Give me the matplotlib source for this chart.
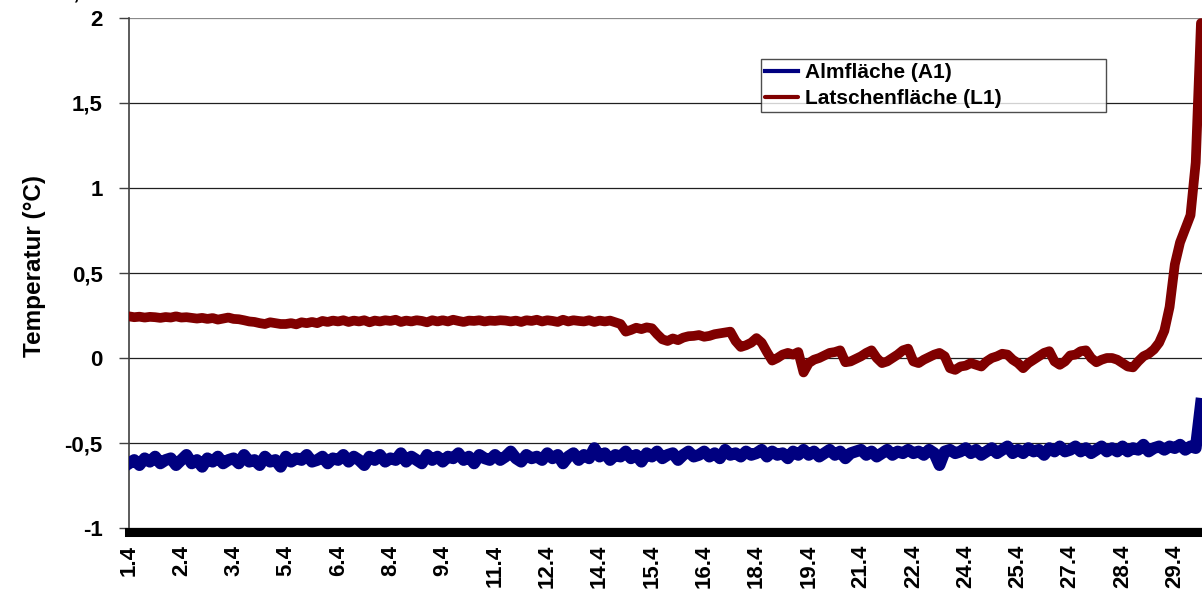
import numpy as np
import matplotlib
matplotlib.use("Agg")
import matplotlib.pyplot as plt

plt.rcParams['font.family'] = ['Liberation Sans', 'DejaVu Sans']
plt.rcParams['font.weight'] = 'bold'

# day labels shown under every 10th reading
day_labels = ['1.4', '2.4', '3.4', '5.4', '6.4', '8.4', '9.4', '11.4', '12.4', '14.4',
              '15.4', '16.4', '18.4', '19.4', '21.4', '22.4', '24.4', '25.4', '27.4',
              '28.4', '29.4']
step = 10

# soil temperature, pasture plot (A1)
alm = [
    -0.62, -0.60, -0.63, -0.59, -0.61, -0.58, -0.62, -0.60, -0.59, -0.63,
    -0.60, -0.57, -0.62, -0.60, -0.64, -0.59, -0.61, -0.58, -0.62, -0.60,
    -0.59, -0.62, -0.57, -0.61, -0.60, -0.63, -0.58, -0.61, -0.60, -0.64,
    -0.58, -0.61, -0.59, -0.60, -0.57, -0.61, -0.60, -0.58, -0.62, -0.59,
    -0.60, -0.57, -0.61, -0.58, -0.60, -0.63, -0.58, -0.60, -0.57, -0.61,
    -0.59, -0.60, -0.56, -0.61, -0.58, -0.60, -0.62, -0.57, -0.60, -0.58,
    -0.61, -0.58, -0.59, -0.56, -0.60, -0.58, -0.62, -0.57, -0.59, -0.60,
    -0.57, -0.60, -0.58, -0.55, -0.59, -0.61, -0.57, -0.59, -0.58, -0.60,
    -0.56, -0.59, -0.57, -0.62, -0.58, -0.56, -0.60, -0.57, -0.59, -0.53,
    -0.58, -0.56, -0.60, -0.57, -0.58, -0.55, -0.59, -0.57, -0.61, -0.56,
    -0.58, -0.55, -0.59, -0.57, -0.56, -0.60, -0.57, -0.55, -0.58, -0.57,
    -0.55, -0.58, -0.56, -0.59, -0.54, -0.57, -0.56, -0.58, -0.55, -0.57,
    -0.56, -0.54, -0.58, -0.55, -0.57, -0.56, -0.59, -0.55, -0.57, -0.54,
    -0.57, -0.55, -0.58, -0.56, -0.54, -0.57, -0.55, -0.59, -0.56, -0.55,
    -0.54, -0.57, -0.55, -0.58, -0.56, -0.54, -0.57, -0.55, -0.56, -0.54,
    -0.56, -0.55, -0.57, -0.54, -0.56, -0.63, -0.55, -0.54, -0.56, -0.55,
    -0.53, -0.56, -0.54, -0.57, -0.55, -0.53, -0.56, -0.54, -0.52, -0.56,
    -0.54, -0.56, -0.53, -0.55, -0.54, -0.57, -0.53, -0.55, -0.52, -0.55,
    -0.54, -0.52, -0.55, -0.53, -0.56, -0.54, -0.52, -0.55, -0.53, -0.55,
    -0.52, -0.55, -0.53, -0.54, -0.51, -0.55, -0.53, -0.52, -0.54, -0.52,
    -0.53, -0.51, -0.54, -0.52, -0.53, -0.27,
]

# soil temperature, dwarf pine plot (L1)
latschen = [
    0.245, 0.240, 0.243, 0.238, 0.242, 0.240, 0.236, 0.241, 0.238, 0.245,
    0.238, 0.240, 0.236, 0.232, 0.236, 0.230, 0.235, 0.226, 0.232, 0.238,
    0.230, 0.228, 0.222, 0.215, 0.212, 0.205, 0.200, 0.210, 0.205, 0.200,
    0.200, 0.205, 0.198, 0.210, 0.205, 0.212, 0.205, 0.218, 0.212, 0.220,
    0.215, 0.222, 0.212, 0.220, 0.215, 0.222, 0.210, 0.220, 0.215, 0.222,
    0.218, 0.225, 0.212, 0.220, 0.215, 0.222, 0.218, 0.210, 0.222, 0.215,
    0.222, 0.215, 0.225, 0.218, 0.212, 0.220, 0.218, 0.222, 0.215, 0.220,
    0.218, 0.222, 0.220, 0.215, 0.220, 0.212, 0.222, 0.218, 0.225, 0.215,
    0.222, 0.218, 0.212, 0.225, 0.215, 0.222, 0.218, 0.215, 0.222, 0.212,
    0.220, 0.215, 0.220, 0.210, 0.200, 0.155, 0.165, 0.178, 0.170, 0.180,
    0.175, 0.140, 0.110, 0.100, 0.115, 0.105, 0.120, 0.128, 0.130, 0.135,
    0.125, 0.130, 0.140, 0.145, 0.150, 0.155, 0.100, 0.065, 0.075, 0.090,
    0.117, 0.090, 0.035, -0.015, 0.000, 0.020, 0.030, 0.020, 0.035, -0.085,
    -0.030, -0.010, 0.000, 0.015, 0.030, 0.035, 0.045, -0.025, -0.020, -0.005,
    0.010, 0.030, 0.045, 0.000, -0.030, -0.020, 0.000, 0.020, 0.045, 0.055,
    -0.020, -0.030, -0.010, 0.005, 0.020, 0.030, 0.010, -0.060, -0.070, -0.050,
    -0.045, -0.030, -0.040, -0.050, -0.020, 0.000, 0.010, 0.025, 0.020, -0.010,
    -0.030, -0.060, -0.030, -0.010, 0.010, 0.030, 0.040, -0.020, -0.040, -0.020,
    0.015, 0.020, 0.040, 0.045, 0.000, -0.025, -0.010, 0.000, 0.000, -0.010,
    -0.030, -0.050, -0.055, -0.020, 0.010, 0.025, 0.050, 0.090, 0.160, 0.300,
    0.550, 0.680, 0.760, 0.840, 1.150, 1.970,
]

y_ticks = [-1, -0.5, 0, 0.5, 1, 1.5, 2]
y_tick_labels = ['-1', '-0,5', '0', '0,5', '1', '1,5', '2']

x = np.arange(len(latschen))

fig = plt.figure(figsize=(12.02, 5.94), dpi=100)
ax = fig.add_axes([0.1073, 0.1111, 0.8927, 0.8586])

ax.plot(x, alm, color='#000080', lw=8.5, solid_joinstyle='round',
        label='Almfläche (A1)', zorder=3)
ax.plot(x, latschen, color='#800000', lw=7.0, solid_joinstyle='round',
        solid_capstyle='round', label='Latschenfläche (L1)', zorder=4)

ax.set_xlim(0, 205.2)
ax.set_ylim(-1, 2)

# spines first: moving a spine resets the tick styling
for side in ['top', 'right']:
    ax.spines[side].set_visible(False)
ax.spines['left'].set_color('#404040')
ax.spines['left'].set_linewidth(1.2)
ax.spines['bottom'].set_position(('outward', 3.2))
ax.spines['bottom'].set_linewidth(6.5)
ax.spines['bottom'].set_color('black')

ax.set_yticks(y_ticks)
ax.set_yticklabels(y_tick_labels, fontsize=16, fontweight='bold')
ax.set_xticks(np.arange(len(day_labels)) * step)
ax.set_xticklabels(day_labels, rotation=90, fontsize=16, fontweight='bold')

ax.tick_params(axis='y', direction='out', length=7, width=1, color='#404040', pad=12)
ax.tick_params(axis='x', length=0, pad=9)

ax.yaxis.grid(True, color='#202020', lw=0.9)
ax.get_ygridlines()[-1].set_color('#8a8a8a')
ax.set_axisbelow(True)

ax.set_ylabel('Temperatur (°C)', fontsize=17.5, fontweight='bold')
ax.yaxis.set_label_coords(-0.077, 0.514)

leg = ax.legend(loc='lower left', bbox_to_anchor=(0.589, 0.815, 0.3215, 0.137),
                mode='expand', prop={'weight': 'bold', 'size': 15},
                frameon=True, fancybox=False, borderpad=0.2, labelspacing=0.35,
                handlelength=1.6, handletextpad=0.3, borderaxespad=0)
leg.get_frame().set_edgecolor('#202020')
leg.get_frame().set_linewidth(1.0)
for line in leg.get_lines():
    line.set_linewidth(3)

# axis value from the chart above, cut at the top edge
fig.text(0.0765, 1 - 3 / 594, '2,5', ha='right', va='bottom',
         fontsize=16, fontweight='bold')

fig.savefig('out.png', dpi=100)
